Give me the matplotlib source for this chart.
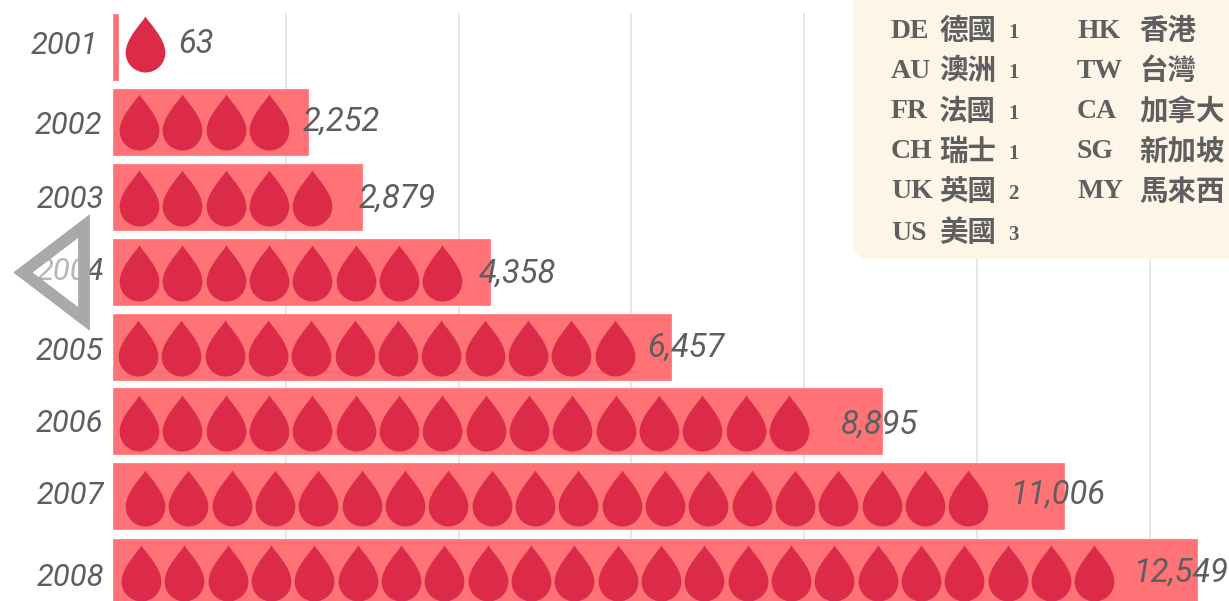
import matplotlib
matplotlib.use("Agg")
import matplotlib.pyplot as plt
import numpy as np
from matplotlib.path import Path
from matplotlib.patches import FancyBboxPatch, Polygon

# ---- data ----
years = ["2001", "2002", "2003", "2004", "2005", "2006", "2007", "2008"]
values = [63, 2252, 2879, 4358, 6457, 8895, 11006, 12549]
drop_counts = [1, 4, 5, 8, 12, 16, 20, 23]
grid_values = [2000, 4000, 6000, 8000, 10000, 12000]

legend_left_codes = ["DE", "AU", "FR", "CH", "UK", "US"]
legend_left_names = ["德國", "澳洲", "法國", "瑞士", "英國", "美國"]
legend_left_counts = ["1", "1", "1", "1", "2", "3"]
legend_right_codes = ["HK", "TW", "CA", "SG", "MY"]
legend_right_names = ["香港", "台灣", "加拿大", "新加坡", "馬來西"]

# ---- layout (pixels) ----
W, H = 1229, 601
X0 = 113.0
PX_PER_UNIT = 0.0864
ROW0 = 46.5
ROW_STEP = 75.0
BAR_PX = 67
DROP_SPACING = 43.33
drop_start_px = [145, 139, 139, 139, 138, 139, 145, 141]
drop_dy_px = [-2.5, 0.5, 1, 1.5, 1, 1.5, 1.5, 1.5]
year_right_px = [98, 102, 104, 104, 103, 103, 104, 104]
year_y_px = [45, 126, 199, 272, 352, 424, 496, 577]
val_left_off = [60, -4.5, -3.5, -10.5, -24, -40.5, -54, -64]
val_y_px = [44, 122, 199, 274, 348, 425, 495, 573]

BAR_C = "#FF7276"
DROP_C = "#DC2B48"
TXT_C = "#5E5E5E"
GRID_C = "#E5E5E5"
LEG_BG = "#FDF6E8"
LEG_TXT = "#5F5F5F"

plt.rcParams["font.family"] = ["Roboto", "DejaVu Sans"]

fig = plt.figure(figsize=(W / 100, H / 100), dpi=100, facecolor="white")
ax = fig.add_axes([0, 0, 1, 1])
ax.set_xlim(-X0 / PX_PER_UNIT, (W - X0) / PX_PER_UNIT)
ax.set_ylim((H - ROW0) / ROW_STEP, -ROW0 / ROW_STEP)
ax.axis("off")

# gridlines
ax.vlines(grid_values, (13 - ROW0) / ROW_STEP, (H - ROW0) / ROW_STEP,
          color=GRID_C, lw=1.3, zorder=1)

# bars
rows = np.arange(len(years))
bars = ax.barh(rows, values, height=(BAR_PX - 1) / ROW_STEP, color=BAR_C,
               edgecolor=BAR_C, linewidth=0.5, zorder=2)
for b in bars:
    b.set_joinstyle("round")

# drop marker
r = 0.71
cy = -1 + r
k = 0.5523 * r
verts = [(0, 1),
         (0.12, 0.78), (r, 0.22), (r, cy),
         (r, cy - k), (k, -1), (0, -1),
         (-k, -1), (-r, cy - k), (-r, cy),
         (-r, 0.22), (-0.12, 0.78), (0, 1),
         (0, 1)]
codes = [Path.MOVETO] + [Path.CURVE4] * 12 + [Path.CLOSEPOLY]
drop = Path(verts, codes)
ms = 56 * 72 / 100
for i, n in enumerate(drop_counts):
    xs = (drop_start_px[i] + DROP_SPACING * np.arange(n) - X0) / PX_PER_UNIT
    ys = np.full(n, i + drop_dy_px[i] / ROW_STEP)
    ax.plot(xs, ys, ls="none", marker=drop, ms=ms, mfc=DROP_C, mec="none", zorder=3)

# year labels and value labels
for i, y in enumerate(years):
    ax.annotate(y, xy=(0, i), xytext=(year_right_px[i] - X0, -(year_y_px[i] - (ROW0 + ROW_STEP * i))),
                textcoords="offset pixels", ha="right", va="center", fontsize=22.3,
                style="italic", color=TXT_C, zorder=4, family="Roboto")
    ax.annotate(f"{values[i]:,}", xy=(values[i], i),
                xytext=(val_left_off[i], -(val_y_px[i] - (ROW0 + ROW_STEP * i))),
                textcoords="offset pixels", ha="left", va="center", fontsize=23.5,
                style="italic", color=TXT_C, zorder=4, family="Roboto")

# overlay in pixels
ov = fig.add_axes([0, 0, 1, 1], facecolor="none")
ov.set_xlim(0, W)
ov.set_ylim(H, 0)
ov.axis("off")

ov.add_patch(Polygon([(23, 272.5), (84, 226), (84, 319)], closed=True, facecolor=(1, 1, 1, 0.55),
                     edgecolor="#A9A9A9", lw=8.5, joinstyle="miter", zorder=5))

ov.add_patch(FancyBboxPatch((868, -40), 420, 284, boxstyle="round,pad=15,rounding_size=18",
                            facecolor=LEG_BG, edgecolor="none", zorder=6))

row_y = [31, 71, 112, 152, 192, 233]
latin = ["Liberation Serif", "DejaVu Serif"]
cjk = ["Noto Sans CJK TC"]
for j, (c, nm, n) in enumerate(zip(legend_left_codes, legend_left_names, legend_left_counts)):
    ov.text(891, row_y[j], c, fontsize=20, family=latin, weight="bold", color=LEG_TXT,
            ha="left", va="center", zorder=7)
    ov.text(939, row_y[j], nm, fontsize=20.5, family=cjk, weight="bold", color=LEG_TXT,
            ha="left", va="center", zorder=7)
    ov.text(1008, row_y[j] + 2, n, fontsize=15, family=latin, weight="bold", color=LEG_TXT,
            ha="left", va="center", zorder=7)
for j, (c, nm) in enumerate(zip(legend_right_codes, legend_right_names)):
    ov.text(1077, row_y[j], c, fontsize=20, family=latin, weight="bold", color=LEG_TXT,
            ha="left", va="center", zorder=7)
    ov.text(1139, row_y[j], nm, fontsize=20.5, family=cjk, weight="bold", color=LEG_TXT,
            ha="left", va="center", zorder=7)

fig.savefig("out.png", dpi=100, facecolor="white")
